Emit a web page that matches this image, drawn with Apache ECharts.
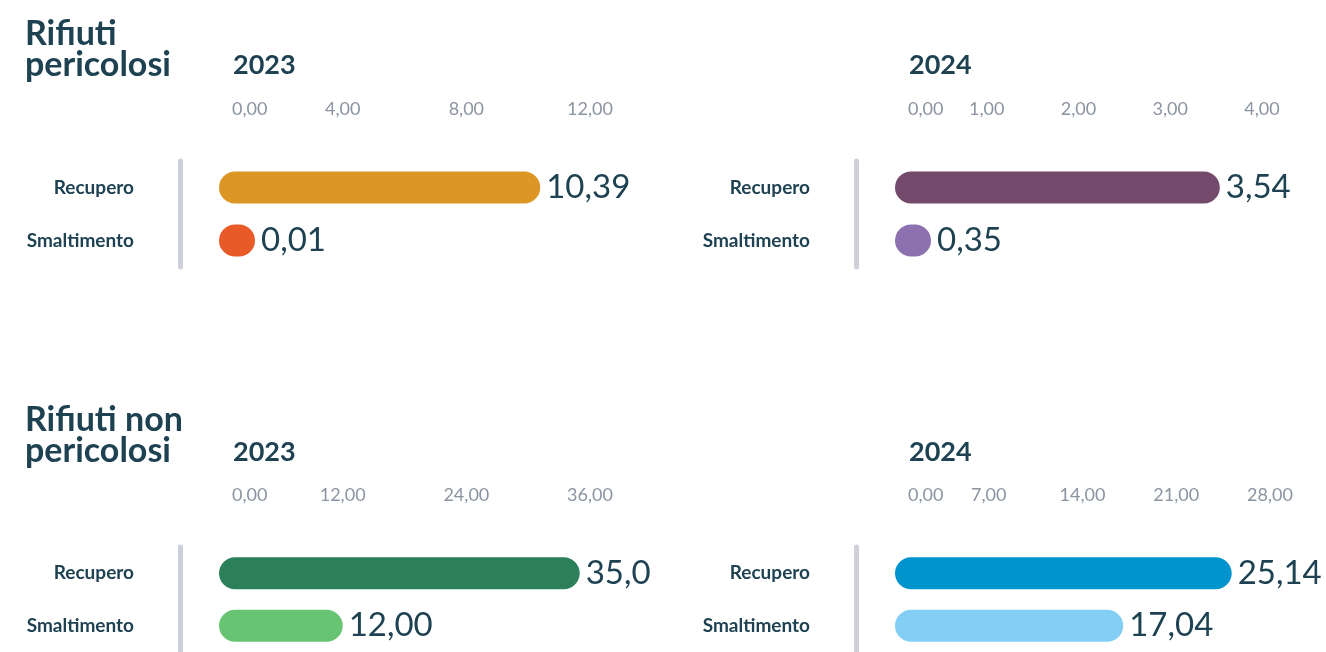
<!DOCTYPE html>
<html>
<head>
<meta charset="utf-8">
<script src="https://cdn.jsdelivr.net/npm/echarts@6/dist/echarts.min.js"></script>
<style>
  html, body { margin: 0; padding: 0; background: #ffffff; }
  #chart { width: 1326px; height: 652px; }
</style>
</head>
<body>
<div id="chart"></div>
<script>
// Waste produced, by type and destination
const categories = ['Recupero', 'Smaltimento'];
const sectionTitles = ['Rifiuti\npericolosi', 'Rifiuti non\npericolosi'];
const years = ['2023', '2024'];

const pericolosi2023 = [10.39, 0.01];
const pericolosi2024 = [3.54, 0.35];
const nonPericolosi2023 = [35.0, 12.00];
const nonPericolosi2024 = [25.14, 17.04];

// decimals shown in each value label
const digitsPericolosi2023 = [2, 2];
const digitsPericolosi2024 = [2, 2];
const digitsNonPericolosi2023 = [1, 2];
const digitsNonPericolosi2024 = [2, 2];

// axis tick values
const ticksPericolosi2023 = [0, 4, 8, 12];
const ticksPericolosi2024 = [0, 1, 2, 3, 4];
const ticksNonPericolosi2023 = [0, 12, 24, 36];
const ticksNonPericolosi2024 = [0, 7, 14, 21, 28];

const DARK = '#1e4252';
const GREY = '#8b94a1';
const FONT = 'Lato';

const panels = [
  { values: pericolosi2023, digits: digitsPericolosi2023, ticks: ticksPericolosi2023,
    colors: ['#dc9626', '#e85a28'], left: 219, width: 371, top: 161 },
  { values: pericolosi2024, digits: digitsPericolosi2024, ticks: ticksPericolosi2024,
    colors: ['#744a6c', '#8c70b0'], left: 895, width: 367, top: 161 },
  { values: nonPericolosi2023, digits: digitsNonPericolosi2023, ticks: ticksNonPericolosi2023,
    colors: ['#2b8059', '#67c473'], left: 219, width: 371, top: 547 },
  { values: nonPericolosi2024, digits: digitsNonPericolosi2024, ticks: ticksNonPericolosi2024,
    colors: ['#0094cf', '#82cff3'], left: 895, width: 375, top: 547 }
];

const itNum = (v, d) => v.toFixed(d).replace('.', ',');

const grid = panels.map(p => ({ left: p.left, width: p.width, top: p.top, height: 106 }));

const xAxis = panels.map((p, i) => ({
  type: 'value',
  gridIndex: i,
  position: 'top',
  min: p.ticks[0],
  max: p.ticks[p.ticks.length - 1],
  interval: p.ticks[1] - p.ticks[0],
  axisLine: { show: false },
  axisTick: { show: false },
  splitLine: { show: false },
  axisLabel: {
    margin: 43,
    color: GREY,
    fontFamily: FONT,
    fontSize: 18,
    alignMinLabel: 'left',
    formatter: v => v === p.ticks[0] ? '{first|' + itNum(v, 2) + '}' : itNum(v, 2),
    rich: {
      first: { color: GREY, fontFamily: FONT, fontSize: 18, padding: [0, 0, 0, 13] }
    }
  }
}));

const yAxis = panels.map((p, i) => ({
  type: 'category',
  gridIndex: i,
  data: categories,
  inverse: true,
  offset: 39,
  axisTick: { show: false },
  axisLine: { show: true, onZero: false, lineStyle: { color: '#cdd0d8', width: 5 } },
  axisLabel: {
    margin: 46,
    color: DARK,
    fontFamily: FONT,
    fontWeight: 'bold',
    fontSize: 19,
    padding: [5, 0, 0, 0]
  }
}));

const series = panels.map((p, i) => ({
  type: 'bar',
  xAxisIndex: i,
  yAxisIndex: i,
  barWidth: 32,
  barMinHeight: 36,
  data: p.values.map((v, k) => ({
    value: v,
    itemStyle: { color: p.colors[k], borderRadius: 16 },
    label: { formatter: () => itNum(v, p.digits[k]) }
  })),
  label: {
    show: true,
    position: 'right',
    distance: 6,
    color: DARK,
    fontFamily: FONT,
    fontSize: 33
  },
  silent: true,
  animation: false
}));

const titleStyle = { color: DARK, fontFamily: FONT, fontWeight: 'bold', fontSize: 34, lineHeight: 31 };
const yearStyle = { color: DARK, fontFamily: FONT, fontWeight: 'bold', fontSize: 27 };

const title = [
  { text: sectionTitles[0], left: 20, top: 14, textStyle: titleStyle },
  { text: sectionTitles[1], left: 20, top: 400, textStyle: titleStyle },
  { text: years[0], left: 228, top: 47, textStyle: yearStyle },
  { text: years[1], left: 904, top: 47, textStyle: yearStyle },
  { text: years[0], left: 228, top: 434, textStyle: yearStyle },
  { text: years[1], left: 904, top: 434, textStyle: yearStyle }
];

const chart = echarts.init(document.getElementById('chart'), null, { renderer: 'canvas' });
chart.setOption({
  animation: false,
  backgroundColor: '#ffffff',
  title,
  grid,
  xAxis,
  yAxis,
  series
});
</script>
</body>
</html>
